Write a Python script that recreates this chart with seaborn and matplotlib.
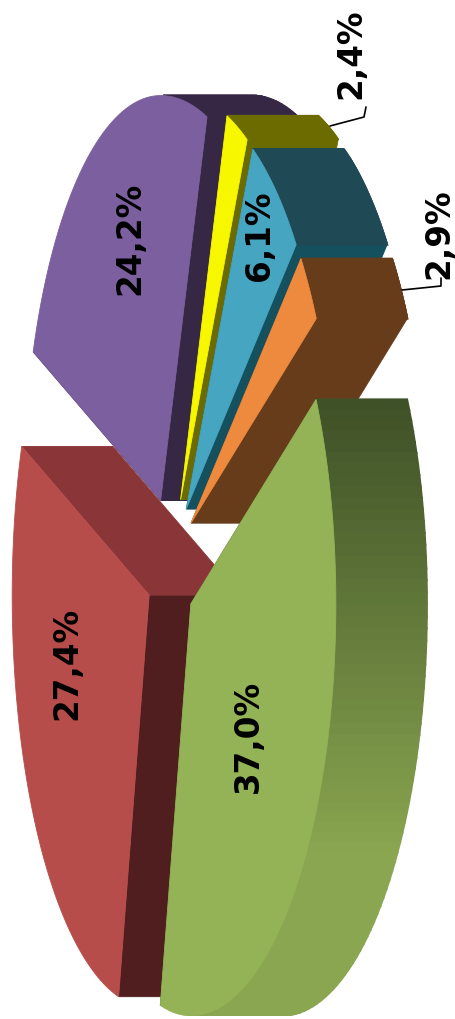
import numpy as np
import matplotlib
matplotlib.use('Agg')
import matplotlib.pyplot as plt
from matplotlib.patches import Rectangle
import seaborn as sns

# data
names = ['green', 'red', 'purple', 'yellow', 'teal', 'orange']
shares = [37.0, 27.4, 24.2, 2.4, 6.1, 2.9]
labels = ['37,0%', '27,4%', '24,2%', '2,4%', '6,1%', '2,9%']

# colours of the faces
top_colors = ['#94b256', '#b74d4b', '#7c5f9e', '#f7f700', '#46a5c1', '#ee8a3e']
start_wall = ['#3f5127', '#501e1e', '#362745', '#6b6b00', '#1f4a55', '#673c1b']
end_wall = ['#3f5127', '#8a3537', '#362745', '#6b6b00', '#15505f', '#673c1b']
arc_far = ['#3f5127', '#501e1e', '#362745', '#6b6b00', '#1f4a55', '#673c1b']
arc_near = ['#8aa650', '#501e1e', '#362745', '#6b6b00', '#1f4a55', '#673c1b']

# pie geometry, in picture pixels
center_x, center_y = 171, 563
radius_near, radius_far = 145, 137   # right and left half of the ellipse
radius_up, radius_down = 405, 412    # upper and lower half
explode = 0.17
depth = 91
start_angle = -30.3
draw_order = [2, 1, 3, 4, 5, 0]

# label centres and leader lines
label_pos = [(248, 736), (67, 663), (130, 238), (351, 54), (260, 236), (439, 234)]
leaders = [([330, 364, 366], [126, 117, 107]), ([402, 441, 441], [290, 286, 278])]

sns.set_theme(style='white')
plt.rcParams['font.family'] = ['DejaVu Sans']

fig = plt.figure(figsize=(4.55, 10.19), dpi=100)
ax = fig.add_axes([0, 0, 1, 1])
ax.set_xlim(0, 455)
ax.set_ylim(1019, 0)
ax.axis('off')
clip = Rectangle((0, 91), 455, 925, transform=ax.transData)


def add_poly(xs, ys, color, lw=0.6):
    # thin edge of same colour hides the seams
    for p in ax.fill(xs, ys, color=color, lw=lw):
        p.set_clip_path(clip)


edges = start_angle + np.cumsum([0] + shares) * 3.6

for i in draw_order:
    t0, t1 = edges[i], edges[i + 1]
    mid = np.radians((t0 + t1) / 2)
    apex_x = center_x + explode * radius_near * np.cos(mid)
    apex_y = center_y + explode * radius_up * np.sin(mid)

    t = np.radians(np.linspace(t0, t1, 80))
    rim_x = apex_x + np.where(np.cos(t) < 0, radius_far, radius_near) * np.cos(t)
    rim_y = apex_y + np.where(np.sin(t) < 0, radius_up, radius_down) * np.sin(t)

    # radial walls first, then the part of the round wall facing the viewer
    add_poly([apex_x, rim_x[0], rim_x[0] + depth, apex_x + depth],
             [apex_y, rim_y[0], rim_y[0], apex_y], start_wall[i])
    add_poly([apex_x, rim_x[-1], rim_x[-1] + depth, apex_x + depth],
             [apex_y, rim_y[-1], rim_y[-1], apex_y], end_wall[i])

    shades = sns.blend_palette([arc_far[i], arc_near[i]], 80)
    for k in range(79):
        if np.cos(t[k]) < 0:
            continue
        # green wall gets lighter towards the bottom of the picture
        shade = shades[int(np.clip((rim_y[k] - 398) / 450, 0, 1) * 79)] if i == 0 else arc_far[i]
        add_poly([rim_x[k], rim_x[k + 1], rim_x[k + 1] + depth, rim_x[k] + depth],
                 [rim_y[k], rim_y[k + 1], rim_y[k + 1], rim_y[k]], shade, lw=1.5)

    add_poly(np.r_[apex_x, rim_x], np.r_[apex_y, rim_y], top_colors[i])

for xs, ys in leaders:
    ax.plot(xs, ys, color='black', lw=1.2)

for text, (x, y) in zip(labels, label_pos):
    ax.text(x, y, text, rotation=90, ha='center', va='center',
            fontsize=23.5, fontweight='bold', color='black')

fig.savefig('out.png', dpi=100)
